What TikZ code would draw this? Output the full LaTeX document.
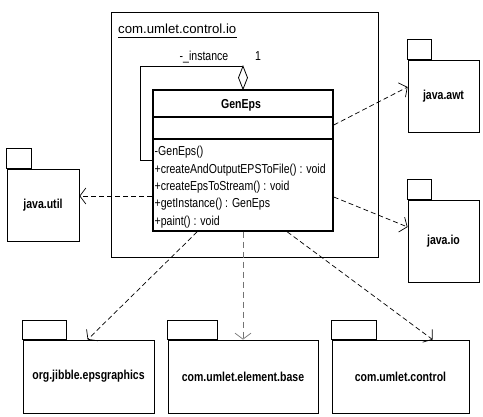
\documentclass[tikz,border=0pt]{standalone}
\usepackage{fontspec}
\setmainfont{Liberation Sans}
\newfontfamily\nf{Liberation Sans}[FakeStretch=0.81]
\usetikzlibrary{arrows.meta,calc}
\begin{document}
\begin{tikzpicture}[x=1pt,y=-1pt,
  pkg/.style={draw, line width=0.8pt, inner sep=0, font=\nf\bfseries\fontsize{13}{15}\selectfont},
  tabbox/.style={draw, line width=0.8pt},
  dep/.style={draw, line width=0.7pt, dash pattern=on 5pt off 3pt, -{Straight Barb[length=6pt,width=16pt,line width=0.7pt]}},
  mtxt/.style={inner sep=0, anchor=base west, font=\nf\fontsize{13}{15}\selectfont},
  lbl/.style={inner sep=0, anchor=base, font=\nf\fontsize{13}{15}\selectfont}]
\useasboundingbox (0,0) rectangle (483,417);
\fill[white] (0,0) rectangle (483,417);
% outer package
\node[draw, line width=0.8pt, minimum width=267pt, minimum height=245pt, inner sep=0] (outer) at (244.5,134.5) {};
\node[anchor=base west, inner sep=0, font=\fontsize{13.2}{16}\selectfont] (title) at (118,34) {com.umlet.control.io};
\draw[line width=0.7pt] ([yshift=-3.5pt]title.base west) -- ([yshift=-3.5pt]title.base east);
% class
\node[draw, line width=1.6pt, minimum width=180pt, minimum height=141pt, inner sep=0] (cls) at (243,160.5) {};
\draw[line width=1.6pt] ([yshift=-28pt]cls.north west) -- ([yshift=-28pt]cls.north east);
\draw[line width=1.6pt] ([yshift=-50pt]cls.north west) -- ([yshift=-50pt]cls.north east);
\node[inner sep=0, anchor=base, font=\nf\bfseries\fontsize{13}{15}\selectfont] (name) at (241,109) {GenEps};
\node[mtxt] (m1) at (154.5,156) {-GenEps()};
\node[mtxt] (m2) at (154.5,173.5) {+createAndOutputEPSToFile() : void};
\node[mtxt] (m3) at (154.5,191) {+createEpsToStream() : void};
\node[mtxt] (m4) at (154.5,208) {+getInstance() : GenEps};
\node[mtxt] (m5) at (154.5,225.5) {+paint() : void};
% self association
\draw[line width=0.8pt] (cls.west) -- ++(-12,0) |- ([yshift=23pt]cls.north);
\draw[line width=0.8pt, fill=white] (cls.north) -- ++(4.5,-11.5) -- ++(-4.5,-11.5) -- ++(-4.5,11.5) -- cycle;
\node[lbl] (role) at (204,61) {-\_instance};
\node[lbl] (mult) at (258,61) {1};
% packages
\node[pkg, minimum width=72pt, minimum height=72pt] (util) at (43,205) {java.util};
\draw[tabbox] (util.north west) rectangle ++(25,-20);
\node[pkg, minimum width=71pt, minimum height=72pt] (awt) at (443.5,96) {java.awt};
\draw[tabbox] (awt.north west) rectangle ++(24,-20);
\node[pkg, minimum width=71pt, minimum height=82pt] (io) at (443.5,241) {java.io};
\draw[tabbox] (io.north west) rectangle ++(24,-20);
\node[pkg, minimum width=131pt, minimum height=73pt] (jib) at (88.5,376.5) {org.jibble.epsgraphics};
\draw[tabbox] (jib.north west) rectangle ++(44,-19);
\node[pkg, minimum width=150pt, minimum height=73pt] (base) at (243,376.5) {com.umlet.element.base};
\draw[tabbox] (base.north west) rectangle ++(50,-19);
\node[pkg, minimum width=137pt, minimum height=73pt] (ctl) at (400.5,376.5) {com.umlet.control};
\draw[tabbox] (ctl.north west) rectangle ++(45,-19);
% dependencies
\draw[dep] ([yshift=35.5pt]cls.east) -- ([yshift=9pt]awt.west);
\draw[dep] ([yshift=-35.5pt]cls.west) -- ([yshift=9pt]util.east);
\draw[dep] ([yshift=-36.5pt]cls.east) -- ([yshift=14pt]io.west);
\draw[dep] ([xshift=45pt]cls.south west) -- ([xshift=65pt]jib.north west);
\draw[dep, draw=black!55, line width=1pt, dash pattern=on 6pt off 4pt] (cls.south) -- (base.north);
\draw[dep] ([xshift=135pt]cls.south west) -- ([xshift=101pt]ctl.north west);
\end{tikzpicture}
\end{document}
